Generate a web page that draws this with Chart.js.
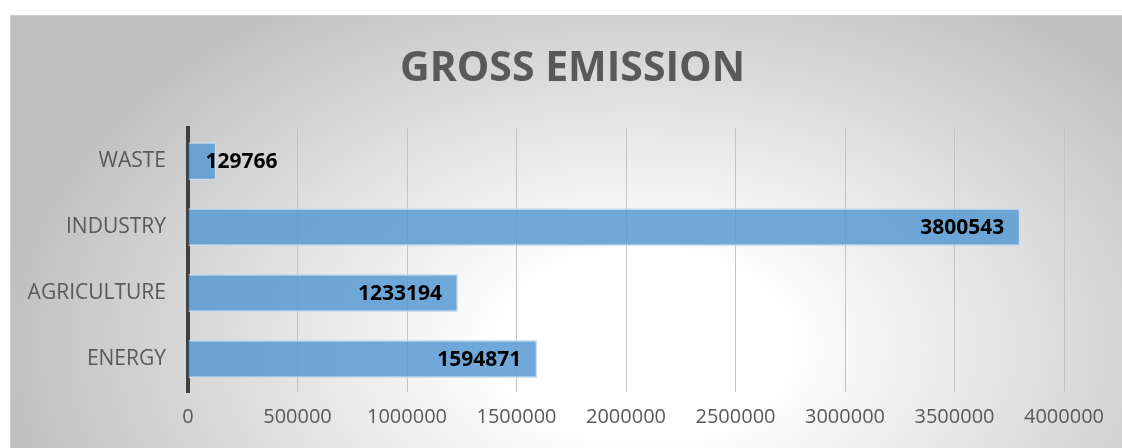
<!DOCTYPE html>
<html>
<head>
<meta charset="utf-8">
<script src="https://cdn.jsdelivr.net/npm/chart.js@4.4.0/dist/chart.umd.min.js"></script>
<style>
    html, body { margin: 0; padding: 0; background: #fff; overflow: hidden; }
    #frame {
        position: absolute; left: 10px; top: 15px; width: 1112px; height: 433px;
        border-top: 1px solid #cfcfcf; border-left: 1px solid #cfcfcf;
        background: radial-gradient(ellipse 650px 420px at 633px 330px, #ffffff 0%, #ffffff 22%, #bfbfbf 100%);
    }
    canvas { display: block; }
</style>
</head>
<body>
<div id="frame"><canvas id="emissions" width="1111" height="432"></canvas></div>
<script>
const sectors = ["WASTE", "INDUSTRY", "AGRICULTURE", "ENERGY"];
const emissions = [129766, 3800543, 1233194, 1594871];
const xTicks = [0, 500000, 1000000, 1500000, 2000000, 2500000, 3000000, 3500000, 4000000];

const ctx = document.getElementById("emissions").getContext("2d");

// value labels, right aligned inside the bar end, pushed out when the bar is too short
const valueLabels = {
    id: "valueLabels",
    afterDatasetsDraw(chart) {
        const c = chart.ctx;
        const meta = chart.getDatasetMeta(0);
        c.save();
        c.font = "bold 21px 'Open Sans'";
        c.fillStyle = "#000";
        c.textAlign = "right";
        c.textBaseline = "middle";
        meta.data.forEach((bar, i) => {
            const txt = String(emissions[i]);
            const w = c.measureText(txt).width;
            const right = Math.max(bar.x - 16, bar.base + 17 + w);
            c.fillText(txt, right, bar.y + 1);
        });
        c.restore();
    }
};

const data = {
    labels: sectors,
    datasets: [{
        data: emissions,
        backgroundColor: "rgba(91, 155, 213, 0.87)",
        borderColor: "rgba(200, 222, 242, 0.9)",
        borderWidth: 1.5,
        categoryPercentage: 1,
        barPercentage: 0.576
    }]
};

const options = {
    indexAxis: "y",
    responsive: false,
    animation: false,
    layout: { padding: { left: 12, right: 0, top: 0, bottom: 6 } },
    plugins: {
        legend: { display: false },
        tooltip: { enabled: false },
        title: {
            display: true,
            text: "GROSS EMISSION",
            color: "#595959",
            font: { family: "'Open Sans'", size: 41, weight: "bold" },
            padding: { top: 29, bottom: 34 }
        }
    },
    scales: {
        x: {
            min: 0,
            max: 4000000,
            afterBuildTicks: (axis) => { axis.ticks = xTicks.map(v => ({ value: v })); },
            ticks: {
                color: "#595959",
                font: { family: "'Open Sans'", size: 20 },
                padding: 13,
                maxRotation: 0,
                autoSkip: false,
                callback: (v) => String(v)
            },
            grid: { color: "#c3c3c3", lineWidth: 1, drawTicks: false },
            border: { display: false }
        },
        y: {
            afterFit: (axis) => { axis.width = 165; },
            ticks: {
                color: "#595959",
                font: { family: "'Open Sans'", size: 21 },
                padding: 22
            },
            grid: { display: false, drawTicks: false },
            border: { display: true, color: "#404040", width: 4 }
        },
        // empty right-hand strip so the plot stops short of the frame edge
        spacer: {
            axis: "y",
            position: "right",
            afterFit: (axis) => { axis.width = 58; },
            ticks: { display: false },
            grid: { display: false, drawTicks: false },
            border: { display: false }
        }
    }
};

new Chart(ctx, {
    type: "bar",
    data: data,
    options: options,
    plugins: [valueLabels]
});
</script>
</body>
</html>
